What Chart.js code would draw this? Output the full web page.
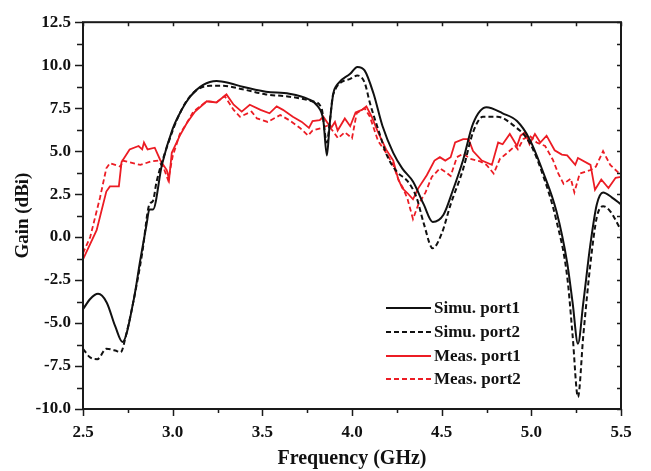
<!DOCTYPE html>
<html>
<head>
<meta charset="utf-8">
<script src="https://cdn.jsdelivr.net/npm/chart.js@4/dist/chart.umd.min.js"></script>
<style>
  html, body { margin: 0; padding: 0; background: #fff; }
  #wrap { width: 651px; height: 471px; }
</style>
</head>
<body>
<div id="wrap"><canvas id="gainChart" width="651" height="471"></canvas></div>
<script>
// frequency in GHz, gain in dBi
const simu1Freq = [2.5, 2.54, 2.584, 2.632, 2.68, 2.72, 2.78, 2.82, 2.855, 2.87, 2.89, 2.94, 3.0, 3.05, 3.1, 3.17, 3.245, 3.32, 3.39, 3.52, 3.65, 3.75, 3.81, 3.84, 3.86, 3.875, 3.895, 3.92, 3.99, 4.03, 4.07, 4.12, 4.17, 4.23, 4.28, 4.34, 4.40, 4.45, 4.51, 4.56, 4.62, 4.675, 4.75, 4.84, 4.92, 4.99, 5.065, 5.14, 5.2, 5.23, 5.26, 5.29, 5.33, 5.365, 5.40, 5.45, 5.5];
const simu1Gain = [-4.2, -3.6, -3.3, -3.8, -5.2, -6.1, -3.8, -1.3, 0.77, 1.6, 1.6, 4.2, 6.3, 7.4, 8.2, 8.85, 9.08, 8.95, 8.74, 8.46, 8.34, 8.05, 7.6, 6.8, 4.75, 6.5, 8.3, 8.9, 9.5, 9.9, 9.7, 8.35, 6.46, 4.9, 4.0, 3.23, 1.9, 0.88, 1.3, 2.65, 4.5, 6.6, 7.55, 7.2, 6.75, 5.7, 3.8, 1.5, -1.5, -3.8, -6.2, -3.8, -0.37, 1.9, 2.6, 2.3, 1.9];

const simu2Freq = [2.5, 2.54, 2.58, 2.63, 2.68, 2.71, 2.74, 2.78, 2.83, 2.87, 2.89, 2.91, 2.97, 3.04, 3.11, 3.21, 3.28, 3.39, 3.52, 3.65, 3.78, 3.83, 3.86, 3.875, 3.895, 3.99, 4.03, 4.07, 4.1, 4.145, 4.195, 4.25, 4.31, 4.36, 4.40, 4.45, 4.50, 4.55, 4.62, 4.675, 4.73, 4.81, 4.90, 4.99, 5.065, 5.14, 5.2, 5.23, 5.26, 5.29, 5.33, 5.365, 5.40, 5.44, 5.5];
const simu2Gain = [-6.5, -7.0, -7.1, -6.5, -6.6, -6.7, -5.7, -3.8, -0.94, 1.9, 2.1, 3.2, 5.3, 7.2, 8.35, 8.8, 8.8, 8.6, 8.3, 8.17, 7.9, 7.5, 5.5, 6.6, 8.3, 9.2, 9.4, 9.0, 7.8, 6.3, 4.75, 3.8, 3.25, 2.3, 0.8, -0.65, 0.2, 1.9, 3.97, 6.1, 7.0, 7.0, 6.5, 5.5, 3.6, 0.95, -2.3, -5.7, -9.3, -5.7, -1.5, 1.15, 1.8, 1.5, 0.4];

const meas1Freq = [2.5, 2.576, 2.63, 2.65, 2.70, 2.715, 2.76, 2.81, 2.83, 2.84, 2.86, 2.90, 2.93, 2.947, 2.967, 2.98, 2.995, 3.04, 3.08, 3.125, 3.19, 3.245, 3.30, 3.34, 3.385, 3.43, 3.49, 3.54, 3.58, 3.615, 3.67, 3.72, 3.76, 3.78, 3.82, 3.84, 3.866, 3.887, 3.905, 3.92, 3.96, 3.99, 4.02, 4.055, 4.08, 4.11, 4.145, 4.19, 4.23, 4.257, 4.28, 4.31, 4.34, 4.37, 4.417, 4.46, 4.49, 4.52, 4.55, 4.575, 4.62, 4.65, 4.675, 4.724, 4.78, 4.815, 4.84, 4.88, 4.92, 4.94, 4.965, 4.99, 5.02, 5.05, 5.085, 5.13, 5.17, 5.2, 5.245, 5.26, 5.33, 5.355, 5.39, 5.43, 5.47, 5.5];
const meas1Gain = [-1.3, 0.4, 2.65, 2.95, 2.95, 4.36, 5.1, 5.3, 5.1, 5.5, 5.1, 5.2, 4.5, 4.2, 3.9, 3.35, 4.9, 5.9, 6.65, 7.3, 7.9, 7.83, 8.3, 7.7, 7.3, 7.7, 7.4, 7.2, 7.6, 7.4, 7.0, 6.7, 6.35, 6.75, 6.8, 7.0, 6.6, 6.4, 6.7, 6.2, 6.9, 6.45, 7.25, 7.4, 7.6, 7.0, 6.1, 5.1, 4.45, 3.4, 2.85, 2.55, 2.2, 2.85, 3.6, 4.45, 4.65, 4.45, 4.65, 5.5, 5.7, 5.7, 5.0, 4.45, 4.2, 5.5, 5.4, 6.0, 5.3, 5.9, 6.1, 5.4, 6.0, 5.5, 5.9, 5.05, 4.8, 4.75, 4.2, 4.6, 4.2, 2.75, 3.35, 2.85, 3.45, 3.5];

const meas2Freq = [2.5, 2.54, 2.595, 2.63, 2.65, 2.71, 2.72, 2.82, 2.88, 2.92, 2.947, 2.975, 3.0, 3.04, 3.08, 3.115, 3.19, 3.245, 3.29, 3.34, 3.375, 3.44, 3.47, 3.53, 3.60, 3.65, 3.71, 3.755, 3.78, 3.83, 3.867, 3.895, 3.922, 3.96, 4.0, 4.026, 4.07, 4.1, 4.145, 4.19, 4.23, 4.26, 4.285, 4.31, 4.34, 4.37, 4.41, 4.445, 4.49, 4.52, 4.55, 4.585, 4.62, 4.66, 4.715, 4.75, 4.79, 4.825, 4.86, 4.91, 4.925, 4.955, 4.99, 5.03, 5.077, 5.12, 5.15, 5.18, 5.22, 5.24, 5.27, 5.33, 5.36, 5.40, 5.44, 5.5];
const meas2Gain = [-0.94, 0.0, 2.3, 4.0, 4.3, 4.1, 4.45, 4.2, 4.4, 4.45, 4.1, 3.3, 4.7, 6.0, 6.65, 7.3, 7.9, 7.85, 8.2, 7.4, 7.0, 7.3, 6.9, 6.7, 7.1, 6.8, 6.35, 5.9, 6.2, 6.35, 6.5, 6.15, 5.75, 6.1, 5.75, 7.2, 7.5, 7.0, 5.6, 4.9, 4.2, 3.3, 2.85, 2.2, 1.05, 1.9, 2.6, 3.5, 4.0, 3.8, 3.55, 4.65, 4.85, 4.55, 4.4, 4.2, 3.7, 4.55, 4.85, 5.3, 5.1, 5.7, 5.9, 5.5, 5.3, 4.5, 3.7, 3.1, 3.4, 2.6, 3.7, 3.9, 4.1, 5.0, 4.2, 3.6];

const seriesLabels = ['Simu. port1', 'Simu. port2', 'Meas. port1', 'Meas. port2'];
const xTicks = [2.5, 3.0, 3.5, 4.0, 4.5, 5.0, 5.5];
const yTicks = [-10, -7.5, -5, -2.5, 0, 2.5, 5, 7.5, 10, 12.5];

const BLACK = '#111111';
const RED = '#ec1c24';
const FONT = "'Liberation Serif', 'Times New Roman', serif";

function zip(xs, ys) {
  return xs.map((x, i) => ({ x: x, y: ys[i] }));
}

// frame, minor ticks and the legend box inside the plot
const framePlugin = {
  id: 'frame',
  afterDraw(chart) {
    const ctx = chart.ctx;
    const a = chart.chartArea;
    const xs = chart.scales.x, ys = chart.scales.y;
    ctx.save();
    ctx.strokeStyle = '#1a1a1a';
    ctx.lineWidth = 2;
    ctx.strokeRect(a.left, a.top, a.right - a.left, a.bottom - a.top);

    ctx.lineWidth = 1.5;
    ctx.beginPath();
    for (let v = 2.5; v <= 5.5001; v += 0.25) {
      const px = Math.round(xs.getPixelForValue(v)) + 0.5;
      const major = Math.abs(v * 2 - Math.round(v * 2)) < 1e-6;
      const len = major ? 7 : 4;
      ctx.moveTo(px, a.bottom); ctx.lineTo(px, a.bottom + len);
      ctx.moveTo(px, a.top); ctx.lineTo(px, a.top + 4);
    }
    for (let v = -10; v <= 12.5001; v += 1.25) {
      const py = Math.round(ys.getPixelForValue(v)) + 0.5;
      const major = Math.abs(v / 2.5 - Math.round(v / 2.5)) < 1e-6;
      const len = major ? 8 : 6;
      ctx.moveTo(a.left, py); ctx.lineTo(a.left - len, py);
      ctx.moveTo(a.right, py); ctx.lineTo(a.right - 4, py);
    }
    ctx.stroke();

    // legend
    const rows = [308, 332, 356, 379];
    ctx.font = 'bold 17px ' + FONT;
    ctx.textBaseline = 'middle';
    ctx.textAlign = 'left';
    chart.data.datasets.forEach((ds, i) => {
      ctx.strokeStyle = ds.borderColor;
      ctx.lineWidth = 2;
      ctx.setLineDash(ds.borderDash || []);
      ctx.beginPath();
      ctx.moveTo(386, rows[i]);
      ctx.lineTo(431, rows[i]);
      ctx.stroke();
      ctx.setLineDash([]);
      ctx.fillStyle = BLACK;
      ctx.fillText(ds.label, 434, rows[i] + 1);
    });
    ctx.restore();
  }
};

Chart.defaults.font.family = FONT;
Chart.defaults.font.weight = 'bold';
Chart.defaults.color = BLACK;

const ctx = document.getElementById('gainChart').getContext('2d');
const gainChart = new Chart(ctx, {
  type: 'line',
  data: {
    datasets: [
      { label: seriesLabels[0], data: zip(simu1Freq, simu1Gain), borderColor: BLACK, borderWidth: 2, cubicInterpolationMode: 'monotone' },
      { label: seriesLabels[1], data: zip(simu2Freq, simu2Gain), borderColor: BLACK, borderWidth: 2, borderDash: [5, 3], cubicInterpolationMode: 'monotone' },
      { label: seriesLabels[2], data: zip(meas1Freq, meas1Gain), borderColor: RED, borderWidth: 1.8, tension: 0 },
      { label: seriesLabels[3], data: zip(meas2Freq, meas2Gain), borderColor: RED, borderWidth: 1.8, borderDash: [5, 3], tension: 0 }
    ]
  },
  options: {
    responsive: false,
    animation: false,
    elements: { point: { radius: 0 } },
    layout: { padding: { top: 14, right: 30, left: 0, bottom: 0 } },
    plugins: { legend: { display: false }, tooltip: { enabled: false } },
    scales: {
      x: {
        type: 'linear',
        min: 2.5, max: 5.5,
        afterBuildTicks: s => { s.ticks = xTicks.map(v => ({ value: v })); },
        afterFit: s => { s.height = 62; },
        grid: { display: false, drawTicks: false },
        border: { display: false },
        ticks: { padding: 13, font: { size: 17, weight: 'bold' }, color: BLACK, callback: v => v.toFixed(1), maxRotation: 0 },
        title: { display: true, text: 'Frequency (GHz)', font: { size: 20, weight: 'bold' }, color: BLACK, padding: { top: 0, bottom: 0 } }
      },
      y: {
        min: -10, max: 12.5,
        afterBuildTicks: s => { s.ticks = yTicks.map(v => ({ value: v })); },
        afterFit: s => { s.width = 83; },
        grid: { display: false, drawTicks: false },
        border: { display: false },
        ticks: { padding: 12, font: { size: 17, weight: 'bold' }, color: BLACK, callback: v => v.toFixed(1) },
        title: { display: true, text: 'Gain (dBi)', font: { size: 19, weight: 'bold' }, color: BLACK, padding: { top: 12, bottom: 0 } }
      }
    }
  },
  plugins: [framePlugin]
});
</script>
</body>
</html>
